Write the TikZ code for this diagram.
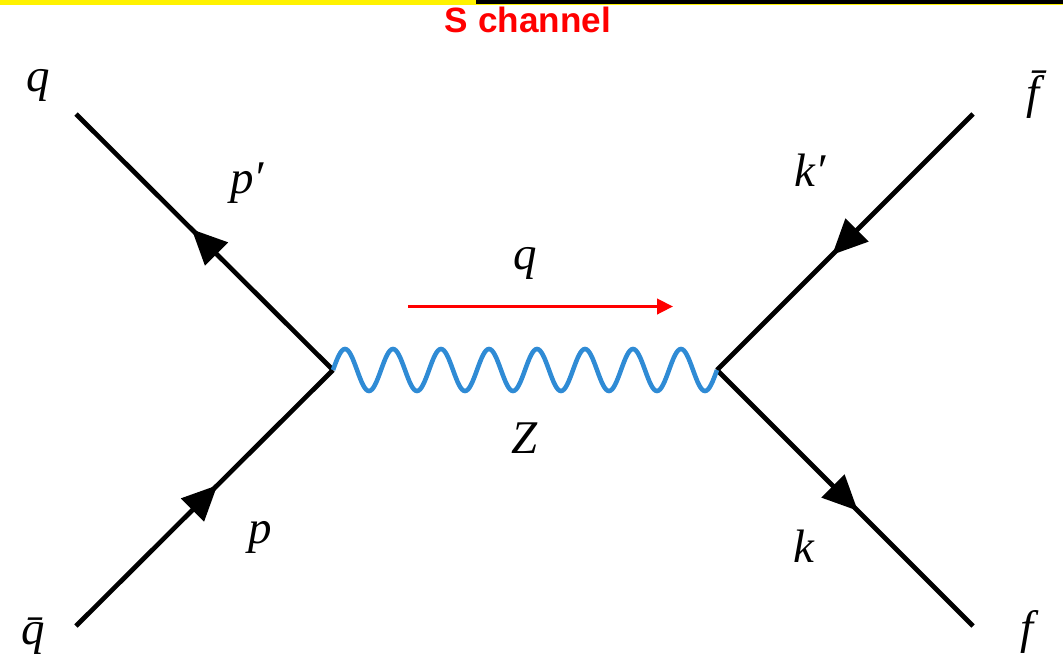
\documentclass[tikz,border=0pt]{standalone}
\usepackage{fontspec}
\setmainfont{Liberation Serif}
\setsansfont{Liberation Sans}
\usetikzlibrary{arrows.meta,decorations.markings}
\definecolor{zblue}{HTML}{2F8BD5}
\tikzset{
    lbl/.style={font=\itshape\fontsize{40}{48}\selectfont, inner sep=0pt},
    fermion/.style={line width=4pt, postaction={decorate},
        decoration={markings, mark=at position 0.55 with {\arrow{Triangle[length=30pt,width=27pt]}}}},
    boson/.style={line width=3.9pt, zblue},
}
\begin{document}
\begin{tikzpicture}[x=0.03cm, y=-0.03cm]
    \useasboundingbox (0,0) rectangle (1063,658);
    % oberer Rand:
    \fill[yellow] (0,0) rectangle (1063,5);
    \fill[black] (476,0) rectangle (1063,4);
    \node[font=\sffamily\bfseries\fontsize{30}{36}\selectfont, text=red, inner sep=0pt] (title) at (528,20) {S channel};
    % Endpunkte:
    \coordinate (qin) at (76,114);
    \coordinate (qbarin) at (76,626);
    \coordinate (fbarout) at (973,114);
    \coordinate (fout) at (973,626);
    \coordinate (vl) at (333,370); % linker Vertex
    \coordinate (vr) at (717,370); % rechter Vertex
    \coordinate (mstart) at (408,306.5);
    \coordinate (mend) at (673,306.5);
    % Fermionen:
    \draw[fermion] (vl) -- (qin);
    \draw[fermion] (qbarin) -- (vl);
    \draw[fermion] (fbarout) -- (vr);
    \draw[fermion] (vr) -- (fout);
    % Z-Boson:
    \draw[boson] (vl) \foreach \i in {1,...,8} {
        sin ++(12,-21) cos ++(12,21) sin ++(12,21) cos ++(12,-21)
    };
    % Impuls:
    \draw[-{Triangle[length=13.6pt,width=13pt]}, red, line width=2.8pt] (mstart) -- (mend);
    % Beschriftung:
    \node[lbl] (lq) at (38,85) {q};
    \node[lbl] (lpp) at (247,183) {p′};
    \node[lbl] (lqbar) at (33,636) {\=q};
    \node[lbl] (lp) at (260,537) {p};
    \node[lbl] (lmom) at (525,263) {q};
    \node[lbl] (lz) at (525,438) {Z};
    \node[lbl] (lkp) at (810,170) {k′};
    \node[lbl] (lfbar) at (1033,95) {\=f};
    \node[lbl] (lk) at (804,546) {k};
    \node[lbl] (lf) at (1027,632) {f};
\end{tikzpicture}
\end{document}
